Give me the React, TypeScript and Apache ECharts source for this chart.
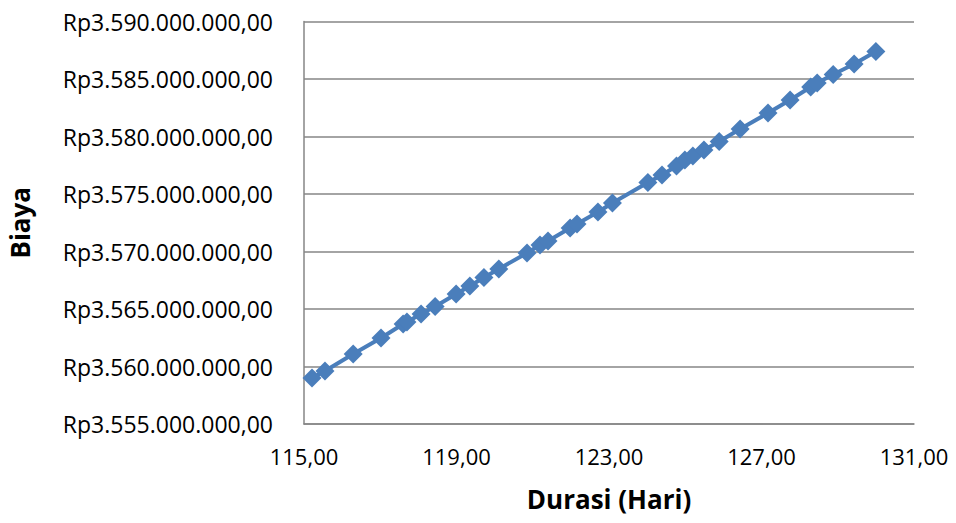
import React, { useEffect, useRef } from "react";
import * as echarts from "echarts";

const durasi: number[] = [
  115.21, 115.55, 116.29, 117.02, 117.6, 117.7, 118.07, 118.44, 118.99, 119.35,
  119.72, 120.11, 120.85, 121.19, 121.4, 121.98, 122.16, 122.71, 123.09, 124.02,
  124.39, 124.77, 124.99, 125.2, 125.49, 125.89, 126.44, 127.17, 127.75, 128.29,
  128.46, 128.88, 129.43, 130.0,
];
// Biaya in millions of Rupiah
const biayaJuta: number[] = [
  3559.0, 3559.61, 3561.09, 3562.48, 3563.7, 3563.87, 3564.57, 3565.22, 3566.3, 3567.0,
  3567.74, 3568.48, 3569.87, 3570.57, 3570.91, 3572.04, 3572.39, 3573.43, 3574.22, 3576.0,
  3576.65, 3577.43, 3577.96, 3578.3, 3578.83, 3579.57, 3580.65, 3582.04, 3583.17, 3584.3,
  3584.65, 3585.39, 3586.3, 3587.39,
];

const FONT = "'Open Sans', sans-serif";

function fmtRp(v: number): string {
  const n = Math.round(v);
  const s = String(n).replace(/\B(?=(\d{3})+(?!\d))/g, ".");
  return "Rp" + s + ",00";
}

export default function App() {
  const ref = useRef<HTMLDivElement>(null);
  useEffect(() => {
    if (!ref.current) return;
    const chart = echarts.init(ref.current, undefined, { renderer: "svg" });
    const data = durasi.map((d, i) => [d, biayaJuta[i] * 1e6]);
    chart.setOption({
      animation: false,
      backgroundColor: "#ffffff",
      grid: { left: 304, right: 42, top: 21.5, bottom: 99, containLabel: false, outerBoundsMode: "none" },
      xAxis: {
        type: "value",
        min: 115,
        max: 131,
        interval: 4,
        name: "Durasi (Hari)",
        nameLocation: "middle",
        nameGap: 62,
        nameTextStyle: { fontFamily: FONT, fontWeight: "bold", fontSize: 26, color: "#000" },
        axisLine: { show: true, lineStyle: { color: "#868686", width: 1.5 } },
        axisTick: { show: false },
        splitLine: { show: false },
        axisLabel: {
          margin: 21,
          fontFamily: FONT,
          fontSize: 22,
          color: "#000",
          hideOverlap: false,
          formatter: (v: number) => v.toFixed(2).replace(".", ","),
        },
      },
      yAxis: {
        type: "value",
        min: 3555000000,
        max: 3590000000,
        interval: 5000000,
        name: "Biaya",
        nameLocation: "middle",
        nameGap: 271,
        nameRotate: 90,
        nameTextStyle: { fontFamily: FONT, fontWeight: "bold", fontSize: 26, color: "#000" },
        axisLine: { show: true, lineStyle: { color: "#868686", width: 1.5 } },
        axisTick: { show: false },
        splitLine: { show: true, lineStyle: { color: "#868686", width: 1.5 } },
        axisLabel: {
          margin: 31,
          fontFamily: FONT,
          fontSize: 23,
          color: "#000",
          formatter: (v: number) => fmtRp(v),
        },
      },
      series: [
        {
          type: "line",
          data,
          symbol: "diamond",
          symbolSize: 19,
          itemStyle: { color: "#4A7EBB" },
          lineStyle: { color: "#4A7EBB", width: 4 },
        },
      ],
    });
    return () => chart.dispose();
  }, []);
  return <div ref={ref} style={{ width: 956, height: 523, position: "absolute", left: 0, top: 0 }} />;
}
